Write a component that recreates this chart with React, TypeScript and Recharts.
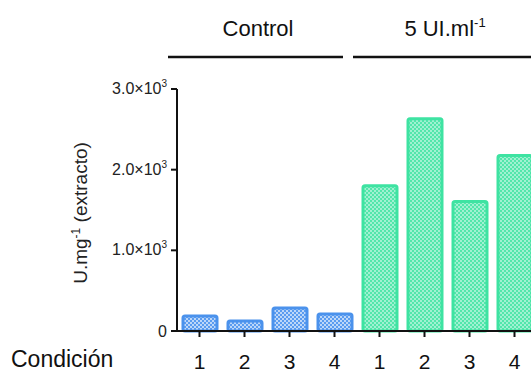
import { BarChart, Bar, XAxis, YAxis, Cell } from 'recharts';

const conditions = ['1', '2', '3', '4'];
const controlValues = [185, 125, 285, 210];
const treatedValues = [1800, 2630, 1605, 2175];
const yTicks = [0, 1000, 2000, 3000];
const groupLabels = ['Control', '5 UI.ml'];

const data = [
  ...conditions.map((c, i) => ({ idx: i, label: c, value: controlValues[i], group: 0 })),
  ...conditions.map((c, i) => ({ idx: i + 4, label: c, value: treatedValues[i], group: 1 })),
];

const fills = ['url(#bluePat)', 'url(#greenPat)'];
const strokes = ['#4b92ec', '#3ee3a2'];
const font = 'Liberation Sans, Arial, sans-serif';

function YTick({ x, y, payload }: any) {
  const v = payload.value as number;
  if (v === 0) {
    return (
      <text x={x} y={y} dy={6} textAnchor="end" fontSize={16} fill="#222" fontFamily={font}>
        0
      </text>
    );
  }
  return (
    <text x={x} y={y} dy={5} textAnchor="end" fontSize={16} fill="#222" fontFamily={font}>
      {(v / 1000).toFixed(1)}×10
      <tspan fontSize={10} dy={-7}>3</tspan>
    </text>
  );
}

export default function App() {
  return (
    <div style={{ position: 'absolute', left: 0, top: 0, width: 531, height: 372, overflow: 'hidden', background: '#fff' }}>
      <svg width={0} height={0} style={{ position: 'absolute' }}>
        <defs>
          <pattern id="bluePat" width={4} height={4} patternUnits="userSpaceOnUse">
            <rect width={4} height={4} fill="#5a9cf0" />
            <rect x={0} y={0} width={2} height={2} fill="#ffffff" fillOpacity={0.6} />
            <rect x={2} y={2} width={2} height={2} fill="#ffffff" fillOpacity={0.6} />
          </pattern>
          <pattern id="greenPat" width={4} height={4} patternUnits="userSpaceOnUse">
            <rect width={4} height={4} fill="#52e6ab" />
            <rect x={0} y={0} width={2} height={2} fill="#ffffff" fillOpacity={0.45} />
            <rect x={2} y={2} width={2} height={2} fill="#ffffff" fillOpacity={0.45} />
          </pattern>
        </defs>
      </svg>
      <BarChart
        width={537}
        height={372}
        data={data}
        margin={{ top: 89, right: 0, bottom: 0, left: 0 }}
      >
        <XAxis
          dataKey="idx"
          type="category"
          height={41}
          tickFormatter={(i) => data[i].label}
          axisLine={{ stroke: '#111', strokeWidth: 2 }}
          tickLine={{ stroke: '#111', strokeWidth: 2 }}
          tickSize={6}
          tickMargin={17}
          tick={{ fontSize: 21, fill: '#111', fontFamily: font }}
          interval={0}
        />
        <YAxis
          width={177}
          domain={[0, 3000]}
          ticks={yTicks}
          interval={0}
          axisLine={{ stroke: '#111', strokeWidth: 2 }}
          tickLine={{ stroke: '#111', strokeWidth: 2 }}
          tickSize={6}
          tickMargin={4}
          tick={<YTick />}
        />
        <Bar dataKey="value" barSize={34} isAnimationActive={false} strokeWidth={3} radius={2}>
          {data.map((d) => (
            <Cell key={d.idx} fill={fills[d.group]} stroke={strokes[d.group]} />
          ))}
        </Bar>
      </BarChart>
      <svg width={531} height={372} style={{ position: 'absolute', left: 0, top: 0, pointerEvents: 'none' }}>
        <text x={258} y={36} textAnchor="middle" fontSize={22} fill="#111" fontFamily={font}>
          {groupLabels[0]}
        </text>
        <text x={445} y={36} textAnchor="middle" fontSize={22} fill="#111" fontFamily={font}>
          {groupLabels[1]}
          <tspan fontSize={13} dy={-9}>-1</tspan>
        </text>
        <line x1={168} x2={343} y1={57} y2={57} stroke="#111" strokeWidth={2.5} />
        <line x1={353} x2={531} y1={57} y2={57} stroke="#111" strokeWidth={2.5} />
        <text x={11} y={367} fontSize={23} fill="#111" fontFamily={font}>
          Condición
        </text>
        <text
          transform="translate(87,213) rotate(-90)"
          textAnchor="middle"
          fontSize={19}
          fill="#222"
          fontFamily={font}
        >
          U.mg<tspan fontSize={12} dy={-7}>-1</tspan>
          <tspan dy={7}> (extracto)</tspan>
        </text>
      </svg>
    </div>
  );
}
